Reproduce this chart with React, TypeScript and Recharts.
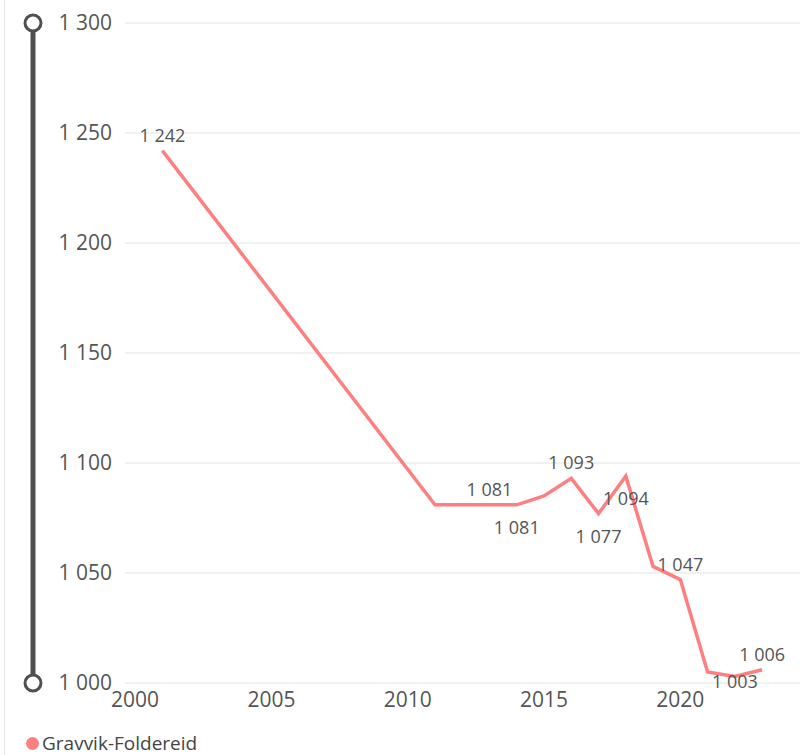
import React from 'react';
import { LineChart, Line, XAxis, YAxis, CartesianGrid, Legend } from 'recharts';

const years = [2001, 2011, 2012, 2013, 2014, 2015, 2016, 2017, 2018, 2019, 2020, 2021, 2022, 2023];
const population = [1242, 1081, 1081, 1081, 1081, 1085, 1093, 1077, 1094, 1053, 1047, 1005, 1003, 1006];
const xTicks = [2000, 2005, 2010, 2015, 2020];
const yTicks = [1000, 1050, 1100, 1150, 1200, 1250, 1300];
const seriesName = 'Gravvik-Foldereid';

// which points get a value label, and where
const labelsAbove = [2001, 2013, 2016, 2020, 2023];
const labelsBelow = [2014, 2017, 2018, 2022];

const data = years.map((year, i) => ({ year, value: population[i] }));

const fmt = (v: number) => {
  const s = String(v);
  return s.length > 3 ? s.slice(0, s.length - 3) + ' ' + s.slice(-3) : s;
};

const LINE = '#fd7f7f';
const FONT = '"Open Sans", sans-serif';

const ValueLabel = (props: any) => {
  const { x, y, index } = props;
  const d = data[index];
  if (!d) return null;
  let dy = 0;
  if (labelsAbove.includes(d.year)) dy = -9;
  else if (labelsBelow.includes(d.year)) dy = d.year === 2022 ? 12 : 29;
  else return null;
  return (
    <text x={x} y={y + dy} textAnchor="middle" fontSize={18} fill="#555" fontFamily={FONT}>
      {fmt(d.value)}
    </text>
  );
};

const LegendContent = () => (
  <div style={{ display: 'flex', alignItems: 'center', height: 24, paddingLeft: 26, fontFamily: FONT, fontSize: 19, color: '#444' }}>
    <span style={{ width: 13, height: 13, borderRadius: '50%', background: LINE, display: 'inline-block', marginRight: 3 }} />
    {seriesName}
  </div>
);

export default function App() {
  return (
    <div style={{ position: 'absolute', left: 0, top: 0, width: 802, height: 755, background: '#fff' }}>
      <div style={{ position: 'absolute', left: 4, top: 0, width: 1, height: 755, background: '#e6e6e6' }} />
      <svg style={{ position: 'absolute', left: 0, top: 0 }} width={60} height={755}>
        <line x1={33} y1={23} x2={33} y2={683} stroke="#505050" strokeWidth={5} />
        <circle cx={33} cy={23} r={8} fill="#fff" stroke="#505050" strokeWidth={3} />
        <circle cx={33} cy={683} r={8} fill="#fff" stroke="#505050" strokeWidth={3} />
      </svg>
      <div style={{ position: 'absolute', left: 0, top: 0 }}>
        <LineChart width={802} height={755} data={data} margin={{ top: 23, right: 2, left: 0, bottom: 0 }}>
          <CartesianGrid horizontal vertical={false} stroke="#ececec" strokeWidth={1.5} />
          <XAxis
            dataKey="year"
            type="number"
            domain={[1999.63, 2024.39]}
            ticks={xTicks}
            allowDataOverflow
            axisLine={false}
            tickLine={false}
            tickSize={0}
            tickMargin={9}
            height={48}
            tick={{ fontSize: 21, fill: '#555', fontFamily: FONT }}
          />
          <YAxis
            domain={[1000, 1300]}
            ticks={yTicks}
            width={125}
            axisLine={false}
            tickLine={false}
            tickSize={0}
            tickMargin={13}
            tickFormatter={fmt}
            tick={{ fontSize: 21, fill: '#555', fontFamily: FONT }}
          />
          <Legend verticalAlign="bottom" align="left" height={24} content={<LegendContent />} />
          <Line
            type="linear"
            dataKey="value"
            name={seriesName}
            stroke={LINE}
            strokeWidth={3.5}
            dot={false}
            activeDot={false}
            isAnimationActive={false}
            label={<ValueLabel />}
          />
        </LineChart>
      </div>
    </div>
  );
}
